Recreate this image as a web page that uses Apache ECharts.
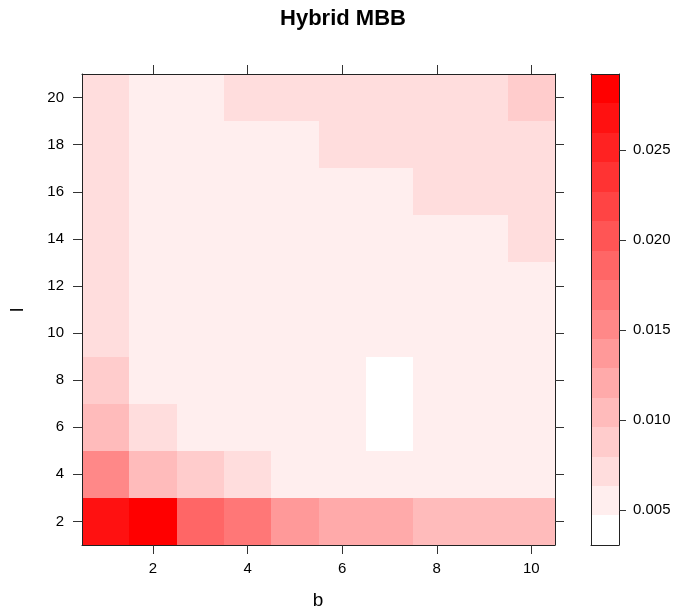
<!DOCTYPE html>
<html>
<head>
<meta charset="utf-8">
<script src="https://cdn.jsdelivr.net/npm/echarts@6/dist/echarts.min.js"></script>
<style>
html,body{margin:0;padding:0;background:#fff;}
#chart{width:677px;height:610px;}
</style>
</head>
<body>
<div id="chart"></div>
<script>
// ---- data ----
const bVals = [1, 2, 3, 4, 5, 6, 7, 8, 9, 10];
const lVals = [2, 4, 6, 8, 10, 12, 14, 16, 18, 20];
const z_l02 = [0.0268, 0.0290, 0.0186, 0.0170, 0.0137, 0.0121, 0.0120, 0.0104, 0.0103, 0.0105];
const z_l04 = [0.0153, 0.0104, 0.0088, 0.0071, 0.0055, 0.0054, 0.0053, 0.0052, 0.0052, 0.0053];
const z_l06 = [0.0101, 0.0070, 0.0058, 0.0056, 0.0055, 0.0054, 0.0035, 0.0053, 0.0053, 0.0054];
const z_l08 = [0.0087, 0.0059, 0.0057, 0.0056, 0.0055, 0.0055, 0.0031, 0.0054, 0.0055, 0.0056];
const z_l10 = [0.0072, 0.0060, 0.0058, 0.0057, 0.0057, 0.0056, 0.0055, 0.0056, 0.0057, 0.0058];
const z_l12 = [0.0073, 0.0061, 0.0059, 0.0058, 0.0058, 0.0058, 0.0057, 0.0058, 0.0059, 0.0061];
const z_l14 = [0.0074, 0.0062, 0.0060, 0.0059, 0.0059, 0.0059, 0.0059, 0.0060, 0.0061, 0.0066];
const z_l16 = [0.0075, 0.0062, 0.0061, 0.0060, 0.0060, 0.0061, 0.0062, 0.0064, 0.0065, 0.0069];
const z_l18 = [0.0076, 0.0062, 0.0061, 0.0061, 0.0062, 0.0064, 0.0065, 0.0066, 0.0068, 0.0072];
const z_l20 = [0.0077, 0.0062, 0.0062, 0.0064, 0.0065, 0.0067, 0.0068, 0.0070, 0.0073, 0.0081];
const zRows = [z_l02, z_l04, z_l06, z_l08, z_l10, z_l12, z_l14, z_l16, z_l18, z_l20];

const keyBreaks = [0.00306, 0.00470, 0.00633, 0.00797, 0.00960, 0.01124, 0.01287, 0.01451,
                   0.01614, 0.01778, 0.01941, 0.02105, 0.02268, 0.02432, 0.02595, 0.02759, 0.02922];
const keyTicks = [0.005, 0.010, 0.015, 0.020, 0.025];
const xTicks = [2, 4, 6, 8, 10];
const yTicks = [2, 4, 6, 8, 10, 12, 14, 16, 18, 20];

// ---- build ----
const FONT = 'Liberation Sans, Arial, Helvetica, sans-serif';
const nBands = keyBreaks.length - 1;
const palette = [];
for (let i = 0; i < nBands; i++) {
  const g = Math.round(255 * (1 - i / (nBands - 1)));
  palette.push('rgb(255,' + g + ',' + g + ')');
}
const pieces = [];
for (let i = 0; i < nBands; i++) {
  pieces.push({ gte: keyBreaks[i], lt: keyBreaks[i + 1] + (i === nBands - 1 ? 1e-9 : 0), color: palette[i] });
}

const cellData = [];
lVals.forEach((l, r) => bVals.forEach((b, c) => cellData.push([b, l, zRows[r][c]])));
const keyData = [];
for (let i = 0; i < nBands; i++) keyData.push([0.5, keyBreaks[i], (keyBreaks[i] + keyBreaks[i + 1]) / 2, keyBreaks[i + 1]]);

const bHalf = (bVals[1] - bVals[0]) / 2;
const lHalf = (lVals[1] - lVals[0]) / 2;

const lineCol = '#222';
const tickCol = '#333';
function axisBase(extra) {
  return Object.assign({
    type: 'value', z: 10,
    splitLine: { show: false },
    axisLine: { show: true, onZero: false, lineStyle: { color: lineCol, width: 1 } },
    axisTick: { show: false },
    axisLabel: { show: false }
  }, extra);
}

const chart = echarts.init(document.getElementById('chart'), null, { renderer: 'canvas' });
chart.setOption({
  animation: false,
  backgroundColor: '#fff',
  grid: [
    { left: 82, top: 74, width: 473, height: 471 },
    { left: 591, top: 74, width: 28, height: 471 }
  ],
  xAxis: [
    axisBase({ gridIndex: 0, position: 'bottom', min: 0.5, max: 10.5,
      axisTick: { show: true, inside: false, length: 9, customValues: xTicks, lineStyle: { color: tickCol } },
      axisLabel: { show: true, customValues: xTicks, margin: 16, fontSize: 15, color: '#000', fontFamily: FONT } }),
    axisBase({ gridIndex: 0, position: 'top', min: 0.5, max: 10.5,
      axisTick: { show: true, inside: false, length: 9, customValues: xTicks, lineStyle: { color: tickCol } } }),
    axisBase({ gridIndex: 1, position: 'bottom', min: 0, max: 1 }),
    axisBase({ gridIndex: 1, position: 'top', min: 0, max: 1 })
  ],
  yAxis: [
    axisBase({ gridIndex: 0, position: 'left', min: 1, max: 21,
      axisTick: { show: true, inside: false, length: 9, customValues: yTicks, lineStyle: { color: tickCol } },
      axisLabel: { show: true, customValues: yTicks, margin: 18, fontSize: 15, color: '#000', fontFamily: FONT } }),
    axisBase({ gridIndex: 0, position: 'right', min: 1, max: 21,
      axisTick: { show: true, inside: false, length: 9, customValues: yTicks, lineStyle: { color: tickCol } } }),
    axisBase({ gridIndex: 1, position: 'left', min: keyBreaks[0], max: keyBreaks[nBands] }),
    axisBase({ gridIndex: 1, position: 'right', min: keyBreaks[0], max: keyBreaks[nBands],
      axisTick: { show: true, inside: false, length: 7, customValues: keyTicks, lineStyle: { color: tickCol } },
      axisLabel: { show: true, customValues: keyTicks, margin: 14, fontSize: 15, color: '#000', fontFamily: FONT,
        formatter: v => Number(v).toFixed(3) } })
  ],
  visualMap: {
    type: 'piecewise', show: false, dimension: 2, seriesIndex: [0, 1], pieces: pieces
  },
  series: [
    {
      type: 'custom', xAxisIndex: 0, yAxisIndex: 0, encode: { x: 0, y: 1 },
      data: cellData,
      renderItem: function (params, api) {
        const b = api.value(0), l = api.value(1);
        const p0 = api.coord([b - bHalf, l + lHalf]);
        const p1 = api.coord([b + bHalf, l - lHalf]);
        const x0 = Math.round(p0[0]), y0 = Math.round(p0[1]);
        const x1 = Math.round(p1[0]), y1 = Math.round(p1[1]);
        return { type: 'rect', shape: { x: x0, y: y0, width: x1 - x0, height: y1 - y0 },
          style: { fill: api.visual('color') } };
      }
    },
    {
      type: 'custom', xAxisIndex: 2, yAxisIndex: 3, encode: { x: 0, y: 1 },
      data: keyData,
      renderItem: function (params, api) {
        const p0 = api.coord([0, api.value(3)]);
        const p1 = api.coord([1, api.value(1)]);
        const x0 = Math.round(p0[0]), y0 = Math.round(p0[1]);
        const x1 = Math.round(p1[0]), y1 = Math.round(p1[1]);
        return { type: 'rect', shape: { x: x0, y: y0, width: x1 - x0, height: y1 - y0 },
          style: { fill: api.visual('color') } };
      }
    }
  ],
  graphic: [
    { type: 'text', x: 343, y: 19, style: { text: 'Hybrid MBB', fontSize: 22, fontWeight: 'bold',
      fontFamily: FONT, fill: '#000', align: 'center', verticalAlign: 'middle' } },
    { type: 'text', x: 318, y: 601, style: { text: 'b', fontSize: 19, fontFamily: FONT, fill: '#000',
      align: 'center', verticalAlign: 'middle' } },
    { type: 'text', x: 18, y: 310, rotation: Math.PI / 2, style: { text: 'l', fontSize: 19, fontFamily: FONT,
      fill: '#000', align: 'center', verticalAlign: 'middle' } }
  ]
});
</script>
</body>
</html>
